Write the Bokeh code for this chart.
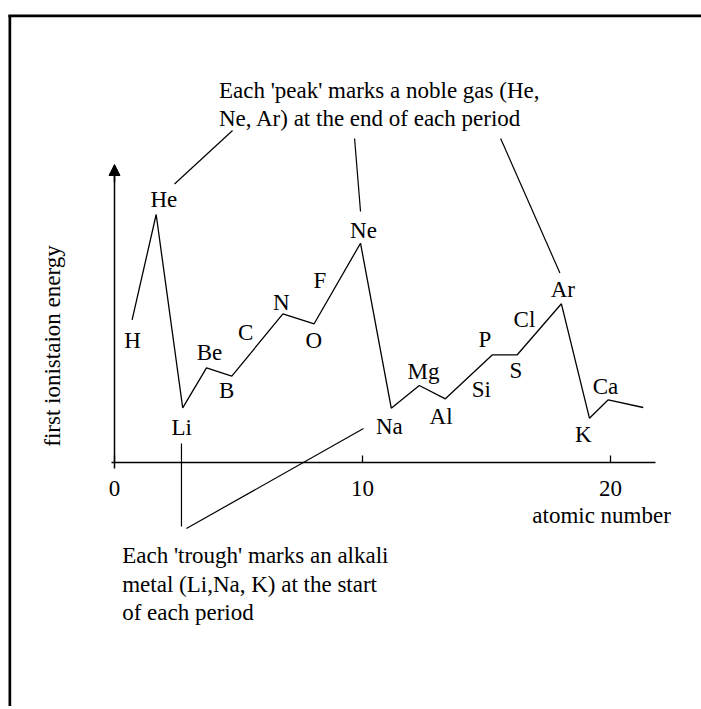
import math
from bokeh.plotting import figure
from bokeh.models import ColumnDataSource, LinearAxis, FixedTicker, Arrow, NormalHead, Range1d
from bokeh.core.properties import value
from bokeh.embed import file_html
from bokeh.resources import INLINE

# ---- data (x: atomic number units, y: arbitrary energy units) ----
curve_x = [0.71, 1.68, 2.75, 3.71, 4.73, 6.79, 8.05, 9.92, 11.16, 12.29, 13.34,
           15.24, 16.24, 18.02, 19.15, 19.91, 21.32]
curve_y = [14.24, 24.77, 5.44, 9.44, 8.60, 14.84, 13.84, 21.90, 5.40, 7.67, 6.34,
           10.74, 10.74, 15.84, 4.40, 6.24, 5.47]

elements = ["H", "He", "Li", "Be", "B", "C", "N", "O", "F", "Ne",
            "Na", "Mg", "Al", "Si", "P", "S", "Cl", "Ar", "K", "Ca"]
label_x = [0.73, 1.99, 2.71, 3.83, 4.52, 5.29, 6.73, 8.04, 8.28, 10.04,
           11.08, 12.46, 13.17, 14.79, 14.93, 16.18, 16.53, 18.08, 18.90, 19.80]
label_y = [11.44, 25.60, 2.77, 10.24, 6.50, 12.27, 15.27, 11.50, 17.50, 22.44,
           2.90, 8.40, 3.90, 6.57, 11.57, 8.50, 13.57, 16.57, 2.07, 6.84]

x_ticks = [0, 10, 20]
x_title = "atomic number"
y_title = "first ionistaion energy"

peak_note = ["Each 'peak' marks a noble gas (He,", "Ne, Ar) at the end of each period"]
peak_note_x = 4.21
peak_note_y = [36.44, 33.67]
trough_note = ["Each 'trough' marks an alkali", "metal (Li,Na, K) at the start", "of each period"]
trough_note_x = 0.31
trough_note_y = [-10.06, -12.90, -15.73]

# callout lines (He, Ne, Ar, Li, Na)
call_x0 = [2.42, 9.68, 15.57, 2.70, 2.90]
call_y0 = [27.82, 32.37, 32.37, 1.87, -6.63]
call_x1 = [4.76, 9.92, 17.96, 2.70, 10.04]
call_y1 = [33.17, 25.07, 18.92, -6.43, 3.37]

# page frame: top edge and left edge
frame_x0 = [-4.28, -4.22]
frame_y0 = [44.63, 44.70]
frame_x1 = [23.70, -4.22]
frame_y1 = [44.63, -25.00]

FONT = "Liberation Serif"
FS = "23px"
TXT_DY = -7  # screen-pixel nudge so the glyph baselines sit where the reference's do

p = figure(width=701, height=706,
           x_range=Range1d(-4.597, 23.669), y_range=Range1d(-24.43, 46.17),
           output_backend="svg", toolbar_location=None,
           x_axis_location=None, y_axis_location=None, min_border=0)
p.grid.visible = False
p.outline_line_color = None
p.background_fill_color = "white"
p.border_fill_color = "white"

xaxis = LinearAxis(fixed_location=0, bounds=(-0.13, 21.82),
                   ticker=FixedTicker(ticks=x_ticks),
                   major_tick_in=7, major_tick_out=0, minor_tick_in=0, minor_tick_out=0,
                   axis_line_width=1.5, axis_line_color="black",
                   major_tick_line_width=1.3, major_tick_line_color="black",
                   major_label_text_font=FONT, major_label_text_font_size=FS,
                   major_label_text_color="black", major_label_standoff=19)
p.add_layout(xaxis, "below")

yaxis = LinearAxis(fixed_location=0, bounds=(-0.6, 29.0),
                   ticker=FixedTicker(ticks=[]),
                   major_tick_in=0, major_tick_out=0, minor_tick_in=0, minor_tick_out=0,
                   axis_line_width=1.5, axis_line_color="black",
                   major_label_text_font_size="0px")
p.add_layout(yaxis, "left")

p.add_layout(Arrow(end=NormalHead(size=11, fill_color="black", line_color="black", line_width=1),
                   x_start=0, y_start=28.0, x_end=0, y_end=29.77,
                   line_width=1.5, line_color="black"))

p.segment(x0=frame_x0, y0=frame_y0, x1=frame_x1, y1=frame_y1,
          line_color="black", line_width=2.7)

p.line(curve_x, curve_y, line_color="black", line_width=1.3)

p.segment(x0=call_x0, y0=call_y0, x1=call_x1, y1=call_y1, line_color="black", line_width=1.2)

src = ColumnDataSource(dict(x=label_x, y=label_y, t=elements))
p.text(x="x", y="y", text="t", source=src, text_font=value(FONT), text_font_size=FS,
       text_align="center", text_baseline="alphabetic", text_color="black", y_offset=TXT_DY)

p.text(x=[19.64], y=[-6.0], text=[x_title], text_font=value(FONT), text_font_size=FS,
       text_align="center", text_baseline="alphabetic", text_color="black", y_offset=TXT_DY)
p.text(x=[-2.5], y=[11.62], text=[y_title], angle=math.pi / 2, text_font=value(FONT),
       text_font_size=FS, text_align="center", text_baseline="middle", text_color="black")

p.text(x=[peak_note_x] * len(peak_note), y=peak_note_y, text=peak_note, text_font=value(FONT),
       text_font_size=FS, text_align="left", text_baseline="alphabetic", text_color="black",
       y_offset=TXT_DY)
p.text(x=[trough_note_x] * len(trough_note), y=trough_note_y, text=trough_note,
       text_font=value(FONT), text_font_size=FS, text_align="left",
       text_baseline="alphabetic", text_color="black", y_offset=TXT_DY)

open("out.html", "w").write(file_html(p, INLINE))
